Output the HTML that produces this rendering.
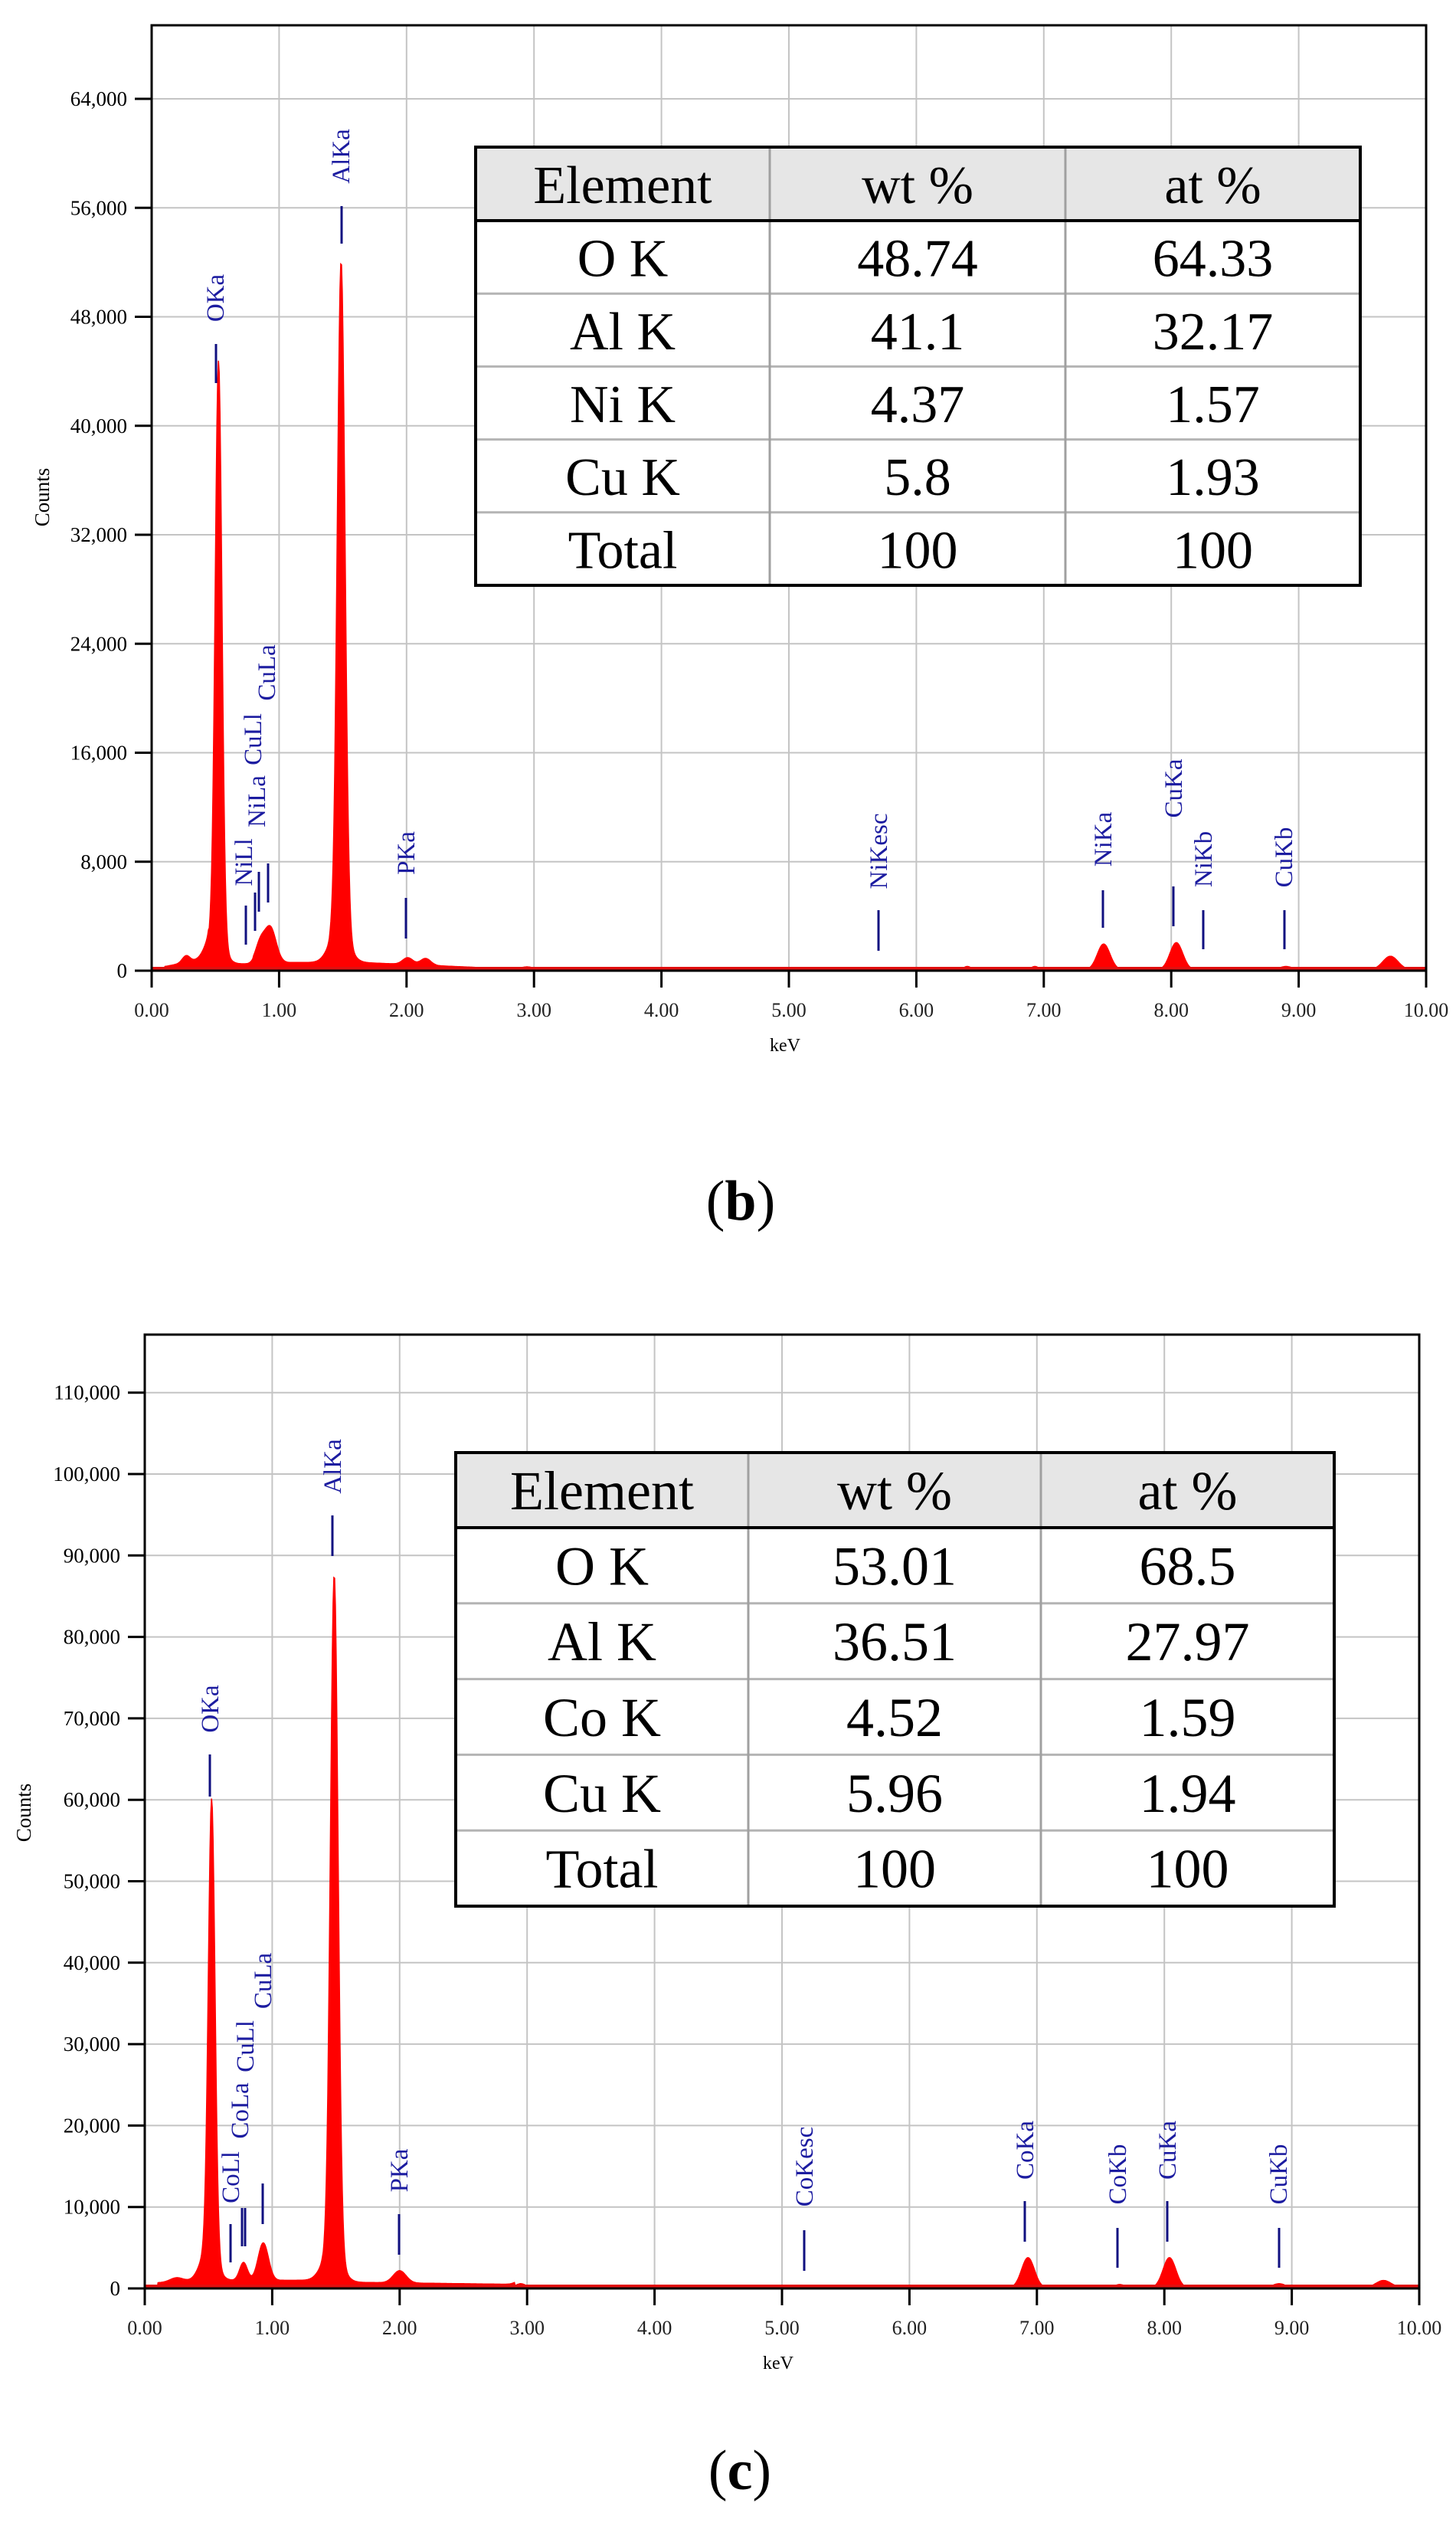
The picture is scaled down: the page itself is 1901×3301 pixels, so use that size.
<!DOCTYPE html>
<html><head><meta charset="utf-8"><style>
html,body{margin:0;padding:0;background:#fff;}
svg{display:block;}
</style></head><body>
<svg id="s" xmlns="http://www.w3.org/2000/svg" width="1901" height="3301" viewBox="0 0 1901 3301" font-family="Liberation Serif, serif"></svg>
<script>
var NS="http://www.w3.org/2000/svg",S=document.getElementById("s");
function el(t,a,txt){var e=document.createElementNS(NS,t);for(var k in a)e.setAttribute(k,a[k]);if(txt!=null)e.textContent=txt;S.appendChild(e);return e;}
function chart(c){
 var X=function(e){return c.L+e*(c.R-c.L)/10;};
 var Y=function(v){return c.A-v*c.py;};
 for(var i=1;i<10;i++)el("line",{x1:X(i),y1:c.T,x2:X(i),y2:c.A,stroke:"#c4c4c4","stroke-width":2});
 c.ticks.forEach(function(v){if(v>0)el("line",{x1:c.L,y1:Y(v),x2:c.R,y2:Y(v),stroke:"#c4c4c4","stroke-width":2});
  el("line",{x1:c.L-22,y1:Y(v),x2:c.L,y2:Y(v),stroke:"#000","stroke-width":3});
  el("text",{x:c.L-32,y:Y(v)+9,"font-size":27,"text-anchor":"end",fill:"#000"},v==0?"0":v.toLocaleString("en-US"));});
 for(var i=0;i<=10;i++){el("line",{x1:X(i),y1:c.A,x2:X(i),y2:c.A+22,stroke:"#000","stroke-width":3});
  el("text",{x:X(i),y:c.A+60,"font-size":26,"text-anchor":"middle",fill:"#222"},i.toFixed(2));}
 el("text",{x:(c.L+c.R)/2-5,y:c.A+105,"font-size":24,"text-anchor":"middle"},"keV");
 el("text",{x:0,y:0,"font-size":27,"text-anchor":"middle",transform:"translate("+c.cx+","+c.cy+") rotate(-90)"},"Counts");
 var d="M"+X(0.08)+","+c.A;
 for(var e=0.08;e<=10.0001;e+=0.006){var v=c.bg(e);c.pk.forEach(function(p){var z=(e-p[0])/p[2];v+=p[1]*Math.exp(-0.5*z*z);});
  d+="L"+X(e).toFixed(1)+","+Y(v).toFixed(1);}
 d+="L"+X(10)+","+c.A+"Z";
 el("path",{d:d,fill:"#ff0000",stroke:"#ff0000","stroke-width":1.5});
 el("line",{x1:c.L,y1:c.A-2,x2:c.R,y2:c.A-2,stroke:"#e21010","stroke-width":6});
 el("rect",{x:c.L,y:c.T,width:c.R-c.L,height:c.A-c.T,fill:"none",stroke:"#000","stroke-width":3});
 c.lab.forEach(function(l){
  el("text",{x:0,y:0,"font-size":33,fill:"#1c1ca0","text-anchor":"middle",transform:"translate("+(l[1]+22)+","+((l[2]+l[3])/2)+") rotate(-90)"},l[0]);
  el("line",{x1:l[4],y1:l[5],x2:l[4],y2:l[6],stroke:"#101080","stroke-width":3});});
 var t=c.tb;var w=t.R-t.L;
 el("rect",{x:t.L,y:t.T,width:w,height:t.H-t.T,fill:"#e6e6e6"});
 el("rect",{x:t.L,y:t.H,width:w,height:t.B-t.H,fill:"#fff"});
 var rh=(t.B-t.H)/5;
 for(var r=1;r<5;r++)el("line",{x1:t.L,y1:t.H+r*rh,x2:t.R,y2:t.H+r*rh,stroke:"#b4b4b4","stroke-width":3});
 [t.c1,t.c2].forEach(function(x){el("line",{x1:x,y1:t.T,x2:x,y2:t.B,stroke:"#a0a0a0","stroke-width":3});});
 el("line",{x1:t.L,y1:t.H,x2:t.R,y2:t.H,stroke:"#000","stroke-width":4});
 el("rect",{x:t.L,y:t.T,width:w,height:t.B-t.T,fill:"none",stroke:"#000","stroke-width":4});
 var cx=[(t.L+t.c1)/2,(t.c1+t.c2)/2,(t.c2+t.R)/2];
 t.rows.forEach(function(row,ri){var yc=ri==0?(t.T+t.H)/2:t.H+rh*(ri-0.5);
  row.forEach(function(s,ci){el("text",{x:cx[ci],y:yc+25,"font-size":t.fs,"text-anchor":"middle",fill:"#000"},s);});});
 var tt=el("text",{x:c.tx,y:c.ty+25,"font-size":74,"text-anchor":"middle"});
 tt.innerHTML="(<tspan font-weight=\"bold\">"+c.tl+"</tspan>)";
}
chart({L:198,R:1862,T:33,A:1267,py:142.25/8000,ticks:[0,8000,16000,24000,32000,40000,48000,56000,64000],cx:64,cy:649,tx:967,ty:1567,tl:"b",
 bg:function(e){if(e<0.1)return 0;if(e<0.45)return 300+(e-0.1)*1800;if(e<0.8)return 500;if(e<1.4)return 600;if(e<3)return 700-(e-1.4)*400;return 60;},
 pk:[[0.525,42000,0.026],[0.50,2500,0.06],[1.487,49000,0.03],[1.47,2500,0.07],[0.93,2600,0.045],[0.85,1300,0.035],[0.27,500,0.03],[2.01,500,0.04],[2.15,500,0.04],[7.47,1900,0.05],[8.04,2000,0.05],[9.72,1000,0.06],[6.4,250,0.03],[6.93,250,0.03],[8.9,250,0.05],[2.95,200,0.05]],
 lab:[["OKa",270,357,421,282,449,500],["AlKa",434,168,240,446,269,318],["NiLl",307,1093,1158,321,1182,1233],["NiLa",324,1012,1080,333,1165,1215],["CuLl",319,930,1000,338,1138,1190],["CuLa",337,841,915,350,1127,1178],
  ["PKa",519,1083,1144,530,1172,1225],["NiKesc",1136,1060,1162,1147,1188,1241],["NiKa",1429,1057,1134,1440,1162,1211],["CuKa",1521,988,1070,1532,1157,1209],["NiKb",1560,1083,1160,1571,1188,1239],["CuKb",1665,1078,1160,1677,1188,1239]],
 tb:{L:621,R:1776,T:192,H:288,B:764,c1:1005,c2:1391,fs:70,rows:[["Element","wt %","at %"],["O K","48.74","64.33"],["Al K","41.1","32.17"],["Ni K","4.37","1.57"],["Cu K","5.8","1.93"],["Total","100","100"]]}
});
chart({L:189,R:1853,T:1742,A:2987,py:106.3/10000,ticks:[0,10000,20000,30000,40000,50000,60000,70000,80000,90000,100000,110000],cx:40,cy:2366,tx:966,ty:3224,tl:"c",
 bg:function(e){if(e<0.1)return 0;if(e<0.45)return 700+(e-0.1)*800;if(e<1.4)return 1000;if(e<2.9)return 800-(e-1.4)*200;return 80;},
 pk:[[0.525,55500,0.026],[0.50,4000,0.06],[1.487,83000,0.03],[1.47,4000,0.07],[0.93,4600,0.04],[0.775,2200,0.03],[0.25,500,0.05],[2.0,1500,0.05],[6.93,3700,0.05],[8.04,3700,0.05],[7.65,400,0.04],[8.9,500,0.05],[9.72,900,0.06],[6.4,300,0.03],[2.95,500,0.04]],
 lab:[["OKa",263,2197,2264,274,2290,2345],["AlKa",423,1876,1952,434,1978,2031],["CoLl",290,2808,2876,301,2903,2953],["CoLa",302,2718,2792,316,2882,2932],["CuLl",309,2634,2708,320,2882,2932],["CuLa",332,2547,2624,343,2850,2903],
  ["PKa",510,2803,2863,521,2890,2943],["CoKesc",1039,2774,2882,1050,2911,2964],["CoKa",1327,2766,2847,1338,2873,2926],["CoKb",1448,2797,2879,1459,2908,2960],["CuKa",1513,2766,2847,1524,2873,2926],["CuKb",1658,2797,2879,1670,2908,2960]],
 tb:{L:595,R:1742,T:1896,H:1994,B:2488,c1:977,c2:1359,fs:72,rows:[["Element","wt %","at %"],["O K","53.01","68.5"],["Al K","36.51","27.97"],["Co K","4.52","1.59"],["Cu K","5.96","1.94"],["Total","100","100"]]}
});
</script>
</body></html>
